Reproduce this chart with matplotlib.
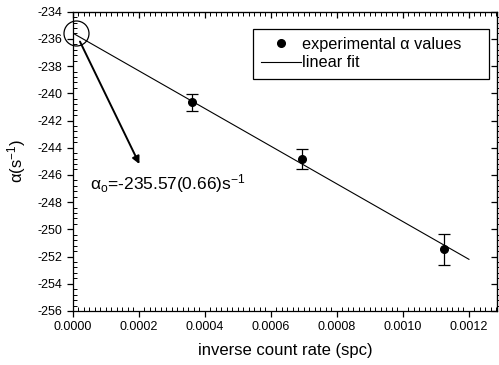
import numpy as np
import matplotlib
matplotlib.use("Agg")
from matplotlib import pyplot as plt
from matplotlib.lines import Line2D
from matplotlib.ticker import MultipleLocator, FormatStrFormatter

plt.rcParams['font.family'] = ['Liberation Sans', 'DejaVu Sans']
plt.rcParams['axes.unicode_minus'] = False
plt.rcParams['mathtext.fontset'] = 'custom'
plt.rcParams['mathtext.rm'] = 'Liberation Sans'
plt.rcParams['mathtext.it'] = 'Liberation Sans:italic'

# measured decay constants vs inverse count rate
inv_rate = [0.00036, 0.000694, 0.001123]
alpha = [-240.66, -244.85, -251.47]
alpha_err = [0.64, 0.72, 1.14]

# linear fit (intercept as printed on the chart)
fit_intercept = -235.57
fit_slope = -13860.0
fit_x = [0.0, 0.0012]

# annotation anchor points
circle_pos = (0.0000094, -235.55)
arrow_tail = (0.000022, -236.2)
arrow_head = (0.000202, -245.2)
label_pos = (0.000053, -246.6)

fig = plt.figure(figsize=(4.99, 3.65), dpi=100)
ax = fig.add_axes([0.1457, 0.148, 0.996 - 0.1457, 0.968 - 0.148])

fx = np.array(fit_x)
ax.plot(fx, fit_intercept + fit_slope * fx, color='k', lw=0.8)
ax.errorbar(inv_rate, alpha, yerr=alpha_err, fmt='o', color='k', ms=5.5,
            elinewidth=0.9, capsize=4.5, capthick=0.9)

# circle around the intercept and pointer to its value
ax.plot([circle_pos[0]], [circle_pos[1]], 'o', mfc='none', mec='k', ms=18, mew=0.9,
        clip_on=False)
ax.annotate('', xy=arrow_head, xytext=arrow_tail,
            arrowprops=dict(arrowstyle='-|>', lw=1.4, color='k', mutation_scale=11,
                            shrinkA=0, shrinkB=0))
ax.text(label_pos[0], label_pos[1], '\u03b1$_\\mathrm{o}$=-235.57(0.66)s$^{-1}$',
        fontsize=12.5, va='center', ha='left')

ax.set_xlim(0, 0.001285)
ax.set_ylim(-256, -234)
ax.xaxis.set_major_locator(MultipleLocator(0.0002))
ax.xaxis.set_minor_locator(MultipleLocator(0.0002 / 12))
ax.xaxis.set_major_formatter(FormatStrFormatter('%.4f'))
ax.yaxis.set_major_locator(MultipleLocator(2))
ax.yaxis.set_minor_locator(MultipleLocator(0.4))

ax.tick_params(which='major', direction='out', length=4, width=0.9, labelsize=9,
               top=False, right=False)
ax.tick_params(which='minor', direction='in', length=3, width=0.7)
for s in ax.spines.values():
    s.set_linewidth(0.9)

# mirrored ticks on top and right
sec_x = ax.secondary_xaxis('top')
sec_x.xaxis.set_major_locator(MultipleLocator(0.0002))
sec_x.xaxis.set_minor_locator(MultipleLocator(0.0002 / 12))
sec_x.tick_params(which='major', direction='in', length=4, width=0.9, labeltop=False)
sec_x.tick_params(which='minor', direction='in', length=3, width=0.7)
sec_y = ax.secondary_yaxis('right')
sec_y.yaxis.set_major_locator(MultipleLocator(2))
sec_y.yaxis.set_minor_locator(MultipleLocator(0.4))
sec_y.tick_params(which='major', direction='in', length=4, width=0.9, labelright=False)
sec_y.tick_params(which='minor', direction='out', length=3, width=0.7)

ax.set_xlabel('inverse count rate (spc)', fontsize=12, labelpad=7)
ax.set_ylabel('\u03b1(s$^{-1}$)', fontsize=12, labelpad=7)

leg_handles = [
    Line2D([], [], ls='none', marker='o', ms=5.5, color='k'),
    Line2D([], [], color='k', lw=0.8),
]
leg_box = (253 / 499, 1 - 76 / 365, 236 / 499, 47 / 365)
leg = ax.legend(leg_handles, ['experimental \u03b1 values', 'linear fit'], loc='upper left',
                bbox_to_anchor=leg_box, bbox_transform=fig.transFigure, mode='expand',
                fontsize=11.7, frameon=True, fancybox=False, edgecolor='k',
                handlelength=2.45, handletextpad=0.05, borderpad=0.5, labelspacing=0.2,
                borderaxespad=0)
leg.get_frame().set_linewidth(0.9)
leg.get_frame().set_alpha(1)

fig.savefig('out.png', dpi=100)
